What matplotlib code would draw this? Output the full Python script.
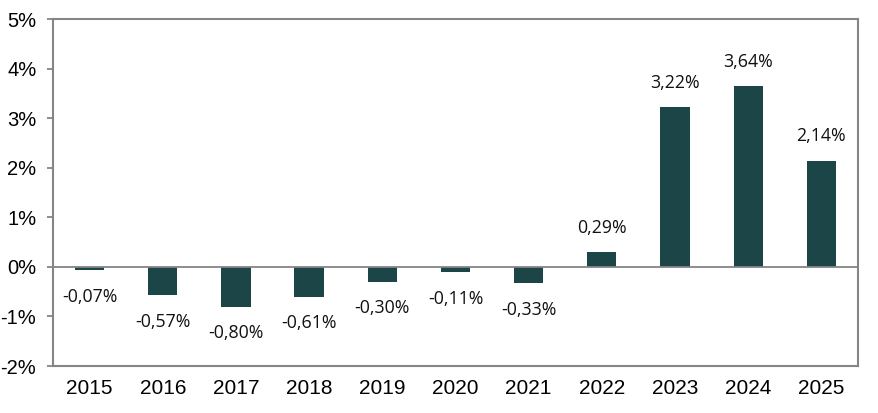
import matplotlib.pyplot as plt
from matplotlib.ticker import FuncFormatter

years = ['2015', '2016', '2017', '2018', '2019', '2020', '2021', '2022', '2023', '2024', '2025']
values = [-0.07, -0.57, -0.80, -0.61, -0.30, -0.11, -0.33, 0.29, 3.22, 3.64, 2.14]

BAR = '#1c4548'
GREY = '#858585'

fig = plt.figure(figsize=(8.79, 4.13), dpi=100)
ax = fig.add_axes([53 / 879, 1 - 366 / 413, (858 - 53) / 879, (366 - 19) / 413])

x = range(len(years))
ax.bar(x, values, width=0.4, color=BAR, zorder=2)
ax.axhline(0, color=GREY, lw=1.3, zorder=3)

for i, v in zip(x, values):
    label = f'{v:.2f}%'.replace('.', ',')
    off = 17.5 if v >= 0 else -19
    ax.annotate(label, (i, v), xytext=(0, off), textcoords='offset points',
                ha='center', va='center', fontsize=12.8, family='Open Sans', color='#111111')

ax.set_xlim(-0.5, len(years) - 0.5)
ax.set_ylim(-2, 5)
ax.set_yticks(range(-2, 6))
ax.yaxis.set_major_formatter(FuncFormatter(lambda v, _: f'{v:.0f}%'))
ax.set_xticks(list(x))
ax.set_xticklabels(years)

for s in ax.spines.values():
    s.set_color(GREY)
    s.set_linewidth(1.5)

ax.tick_params(axis='y', length=4, width=1.3, color=GREY, pad=8, labelsize=14.5)
ax.tick_params(axis='x', length=0, pad=9, labelsize=15)
for t in ax.get_xticklabels() + ax.get_yticklabels():
    t.set_family('Liberation Sans')

fig.savefig('out.png', dpi=100)
